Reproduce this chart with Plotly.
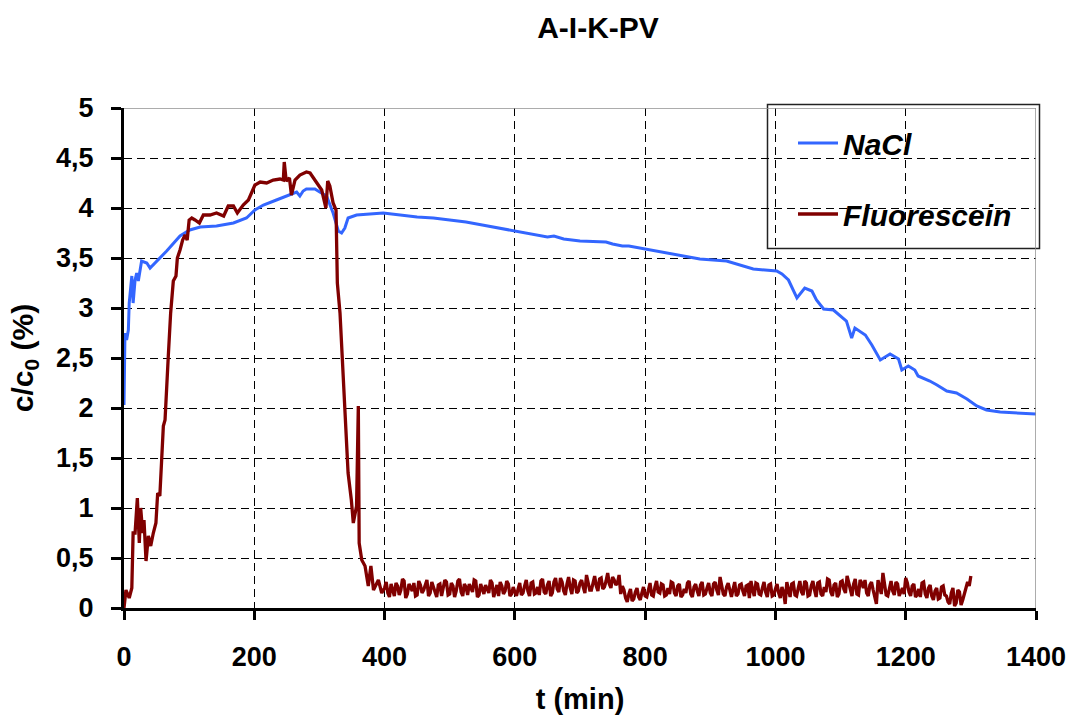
import plotly.graph_objects as go

# ---------------- data ----------------
nacl_t = [0, 1.5, 4, 6.7, 8, 12, 14, 17, 19.5, 22, 27, 35, 40, 47.6, 65.5, 86, 101, 117, 142, 168,
          188, 201, 214, 234, 255, 265, 270, 275, 280, 293, 303, 311, 321, 329, 334, 339, 344, 357,
          398, 424, 450, 475, 500, 525, 550, 575, 600, 625, 650, 660, 675, 700, 725, 740, 750, 765,
          775, 800, 825, 850, 884, 925, 966, 1002, 1010, 1020, 1033, 1045, 1056, 1063, 1074, 1089,
          1109, 1117, 1122, 1138, 1148, 1161, 1176, 1189, 1194, 1204, 1214, 1219, 1237, 1248, 1263,
          1278, 1294, 1309, 1324, 1345, 1396, 1400]
nacl_c = [2.03, 2.75, 2.68, 2.78, 3.05, 3.32, 3.05, 3.28, 3.35, 3.27, 3.47, 3.45, 3.40, 3.45, 3.57,
          3.72, 3.78, 3.81, 3.82, 3.85, 3.90, 3.98, 4.03, 4.08, 4.13, 4.16, 4.12, 4.17, 4.19, 4.19,
          4.15, 4.12, 3.95, 3.77, 3.75, 3.80, 3.90, 3.93, 3.95, 3.93, 3.91, 3.90, 3.88, 3.86, 3.83,
          3.80, 3.77, 3.74, 3.71, 3.72, 3.69, 3.67, 3.66, 3.66, 3.64, 3.62, 3.62, 3.59, 3.56, 3.53,
          3.49, 3.47, 3.39, 3.37, 3.34, 3.28, 3.10, 3.20, 3.17, 3.08, 2.99, 2.98, 2.87, 2.70, 2.80,
          2.73, 2.63, 2.48, 2.54, 2.49, 2.38, 2.42, 2.38, 2.32, 2.27, 2.23, 2.17, 2.15, 2.09, 2.02,
          1.98, 1.96, 1.94, 1.94]

fluo_t_early = [0, 3, 8, 12, 14, 17, 20.5, 23.5, 25.6, 28.7, 30.7, 33.8, 37.4, 41, 45, 49, 51.7, 55,
                57.8, 60.4, 63, 65.5, 68, 71.6, 75.7, 79.8, 81.9, 86, 90, 93.7, 97, 100, 104, 109,
                115.7, 121.8, 132, 142, 153, 160, 168, 174, 183, 191, 201, 209, 219, 229, 239.5,
                244.6, 246, 249, 254, 257, 262.5, 270, 280, 285.6, 293, 303.5, 310, 312.7, 316,
                321, 325.5, 327.5, 331.6, 336.7, 344, 349, 352, 357, 359.7, 361, 365, 370, 375,
                379, 383, 390.5, 395.6]
fluo_c_early = [0.0, 0.18, 0.10, 0.20, 0.75, 0.75, 1.10, 0.65, 1.00, 0.75, 0.88, 0.47, 0.72, 0.62,
                0.75, 0.85, 1.15, 1.12, 1.48, 1.82, 1.88, 2.25, 2.52, 2.95, 3.27, 3.32, 3.50, 3.58,
                3.68, 3.73, 3.68, 3.88, 3.90, 3.88, 3.85, 3.93, 3.93, 3.95, 3.92, 4.02, 4.02, 3.95,
                4.03, 4.08, 4.23, 4.26, 4.25, 4.28, 4.29, 4.28, 4.46, 4.27, 4.30, 4.13, 4.28, 4.33,
                4.36, 4.35, 4.28, 4.18, 4.00, 4.27, 4.22, 4.05, 3.98, 3.25, 2.95, 2.28, 1.35, 1.08,
                0.85, 1.02, 2.02, 0.65, 0.48, 0.42, 0.22, 0.42, 0.18, 0.28, 0.15]

# baseline of Fluorescein: readings at 400, 405, ..., 1300 min
fluo_base_start, fluo_base_step = 400, 5
fluo_c_base = [
    0.20, 0.15, 0.24, 0.12, 0.22, 0.18, 0.27, 0.14, 0.21, 0.25,
    0.13, 0.23, 0.18, 0.28, 0.15, 0.20, 0.11, 0.24, 0.19, 0.26,
    0.14, 0.22, 0.17, 0.29, 0.12, 0.21, 0.24, 0.16, 0.27, 0.13,
    0.20, 0.23, 0.15, 0.25, 0.18, 0.12, 0.22, 0.17, 0.24, 0.14,
    0.16,
    0.19, 0.13, 0.22, 0.17, 0.25, 0.14, 0.21, 0.27, 0.16, 0.23,
    0.12, 0.26, 0.19, 0.30, 0.17, 0.24, 0.20, 0.28, 0.15, 0.25,
    0.21, 0.33, 0.18, 0.26, 0.22, 0.29, 0.19, 0.27, 0.24, 0.31,
    0.23, 0.33,
    0.22, 0.10, 0.14, 0.07, 0.16, 0.11, 0.15, 0.12,
    0.18, 0.13, 0.21, 0.16, 0.24, 0.12, 0.20, 0.26, 0.15, 0.22,
    0.11, 0.19, 0.25, 0.14, 0.21, 0.17, 0.23, 0.13, 0.20, 0.15,
    0.24, 0.18, 0.31, 0.14, 0.21, 0.16, 0.19, 0.12, 0.23, 0.17,
    0.22, 0.10, 0.18, 0.25, 0.14, 0.20, 0.16, 0.23, 0.12, 0.19,
    0.15, 0.21, 0.04, 0.18, 0.24, 0.13, 0.20, 0.16, 0.27, 0.12,
    0.22, 0.18, 0.25, 0.14, 0.21, 0.29, 0.16, 0.23, 0.11, 0.26,
    0.19, 0.32, 0.17, 0.24, 0.14, 0.28, 0.20, 0.15, 0.23, 0.18,
    0.04, 0.22, 0.35, 0.13, 0.21, 0.17, 0.26, 0.12, 0.20, 0.30,
    0.16, 0.22, 0.11, 0.19, 0.25, 0.14, 0.20, 0.12, 0.17, 0.09,
    0.21, 0.13, 0.06, 0.15, 0.02, 0.18, 0.03, 0.14, 0.26, 0.32,
]
# readings between them: 402.5, 407.5, ..., 1297.5 min
fluo_c_base_mid = [
    0.26, 0.11, 0.19, 0.25, 0.13, 0.29, 0.10, 0.24, 0.17, 0.12,
    0.27, 0.15, 0.24, 0.12, 0.26, 0.14, 0.23, 0.12, 0.28, 0.13,
    0.25, 0.11, 0.27, 0.16, 0.24, 0.13, 0.19, 0.28, 0.11, 0.24,
    0.14, 0.19, 0.28, 0.11, 0.23, 0.26, 0.14, 0.27, 0.12, 0.21,
    0.12, 0.25, 0.15, 0.28, 0.12, 0.26, 0.15, 0.13, 0.29, 0.14,
    0.27, 0.15, 0.30, 0.16, 0.26, 0.13, 0.31, 0.14, 0.27, 0.17,
    0.28, 0.15, 0.27, 0.18, 0.32, 0.17, 0.30, 0.21, 0.35, 0.20,
    0.28, 0.25,
    0.14, 0.18, 0.06, 0.19, 0.09, 0.20, 0.08, 0.21,
    0.11, 0.25, 0.12, 0.27, 0.15, 0.23, 0.13, 0.14, 0.25, 0.12,
    0.24, 0.13, 0.15, 0.27, 0.11, 0.24, 0.12, 0.26, 0.14, 0.25,
    0.12, 0.26, 0.13, 0.22, 0.12, 0.25, 0.11, 0.26, 0.14, 0.24,
    0.12, 0.23, 0.27, 0.12, 0.24, 0.13, 0.26, 0.11, 0.24, 0.13,
    0.24, 0.10, 0.16, 0.26, 0.11, 0.25, 0.12, 0.27, 0.13, 0.25,
    0.13, 0.27, 0.11, 0.26, 0.12, 0.16, 0.28, 0.12, 0.25, 0.14,
    0.27, 0.15, 0.26, 0.12, 0.29, 0.13, 0.25, 0.28, 0.12, 0.26,
    0.10, 0.28, 0.14, 0.25, 0.12, 0.27, 0.13, 0.24, 0.16, 0.14,
    0.25, 0.12, 0.24, 0.13, 0.11, 0.26, 0.10, 0.23, 0.08, 0.20,
    0.10, 0.22, 0.12, 0.04, 0.20, 0.05, 0.16, 0.08, 0.20, 0.22,
]

fluo_t_base, fluo_c_base_all = [], []
for i, v in enumerate(fluo_c_base):
    t0 = fluo_base_start + i * fluo_base_step
    fluo_t_base.append(t0)
    fluo_c_base_all.append(v)
    if i < len(fluo_c_base_mid):
        fluo_t_base.append(t0 + fluo_base_step / 2)
        fluo_c_base_all.append(fluo_c_base_mid[i])

fluo_t = fluo_t_early + fluo_t_base
fluo_c = fluo_c_early + fluo_c_base_all

y_tick_vals = [0, 0.5, 1, 1.5, 2, 2.5, 3, 3.5, 4, 4.5, 5]
y_tick_text = ["0", "0,5", "1", "1,5", "2", "2,5", "3", "3,5", "4", "4,5", "5"]
x_tick_vals = [0, 200, 400, 600, 800, 1000, 1200, 1400]

FONT = "Liberation Sans, Arial, sans-serif"

fig = go.Figure()
fig.add_trace(go.Scatter(x=nacl_t, y=nacl_c, mode="lines", name="NaCl", legendgroup="a",
                         line=dict(color="#3366FF", width=3)))
fig.add_trace(go.Scatter(x=fluo_t, y=fluo_c, mode="lines", name="Fluorescein", legendgroup="b",
                         line=dict(color="#800000", width=3.3)))

fig.update_layout(
    width=1069, height=715,
    margin=dict(l=124, r=33, t=108, b=107),
    paper_bgcolor="white", plot_bgcolor="white",
    font=dict(family=FONT, color="black"),
    title=dict(text="A-I-K-PV", x=598 / 1069, xanchor="center", y=1 - 27 / 715, yanchor="middle",
               font=dict(size=30, weight="bold", family=FONT)),
    legend=dict(x=(793 - 124) / 912, xanchor="left", y=(608 - 117) / 500, yanchor="top",
                font=dict(size=30, weight="bold", style="italic", family=FONT),
                bgcolor="rgba(0,0,0,0)", borderwidth=0, itemwidth=40,
                traceorder="grouped", tracegroupgap=29),
    shapes=[
        dict(type="rect", xref="paper", yref="paper",
             x0=(767.5 - 124) / 912, x1=(1039.5 - 124) / 912,
             y0=(608 - 248.5) / 500, y1=(608 - 104.5) / 500,
             line=dict(color="#222", width=1.5), fillcolor="white", layer="below"),
        dict(type="line", xref="x", yref="y", x0=0, x1=1400, y0=5, y1=5,
             line=dict(color="#909090", width=1.5), layer="above"),
        dict(type="line", xref="x", yref="y", x0=1400, x1=1400, y0=0, y1=5,
             line=dict(color="#909090", width=1.5), layer="above"),
    ],
)

fig.update_xaxes(
    range=[0, 1400], tickvals=x_tick_vals, automargin=False,
    showline=True, linecolor="black", linewidth=3,
    ticks="outside", ticklen=9, tickwidth=3, tickcolor="black",
    tickfont=dict(size=27, weight="bold", family=FONT), ticklabelstandoff=14,
    showgrid=True, gridcolor="black", gridwidth=1, griddash="8px,5px",
    zeroline=False,
    title=dict(text="t (min)", font=dict(size=29, weight="bold", family=FONT), standoff=18),
)
fig.update_yaxes(
    range=[0, 5], tickvals=y_tick_vals, ticktext=y_tick_text, automargin=False,
    showline=True, linecolor="black", linewidth=3,
    ticks="outside", ticklen=10, tickwidth=3, tickcolor="black",
    tickfont=dict(size=27, weight="bold", family=FONT), ticklabelstandoff=12,
    showgrid=True, gridcolor="black", gridwidth=1, griddash="8px,5px",
    zeroline=False,
    title=dict(text="c/c<sub>0</sub> (%)", font=dict(size=30, weight="bold", family=FONT), standoff=14),
)

fig.write_html("out.html")
